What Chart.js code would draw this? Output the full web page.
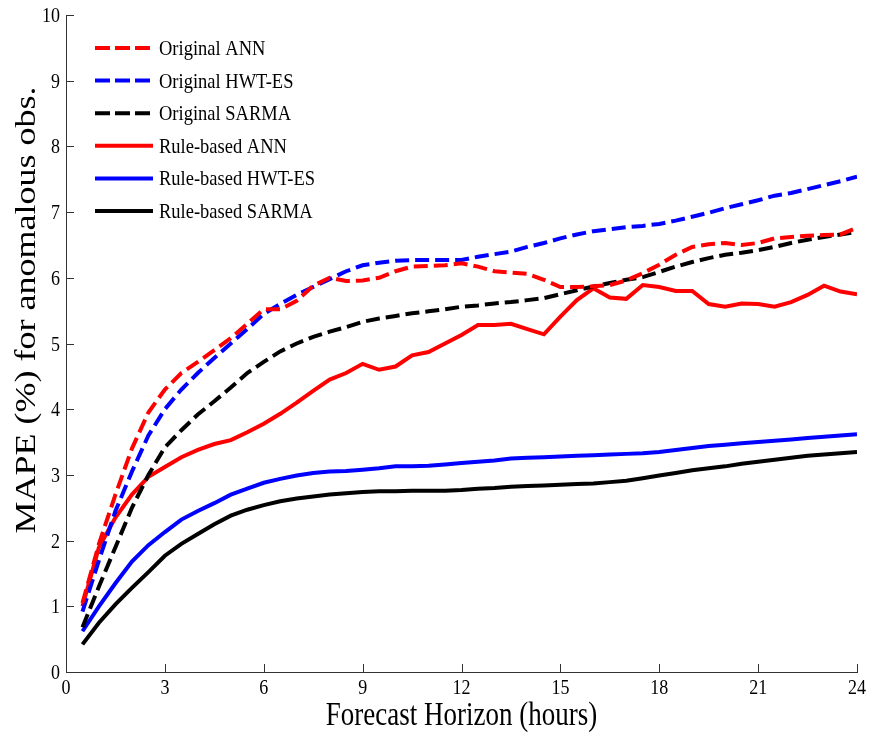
<!DOCTYPE html>
<html>
<head>
<meta charset="utf-8">
<script src="https://cdn.jsdelivr.net/npm/chart.js@4.4.1/dist/chart.umd.min.js"></script>
<style>
  html, body { margin: 0; padding: 0; background: #fff; }
  #wrap { width: 869px; height: 733px; position: relative; }
</style>
</head>
<body>
<div id="wrap"><canvas id="c" width="869" height="733"></canvas></div>
<script>
// Forecast horizons (hours), half-hour steps
const horizons = [0.5,1,1.5,2,2.5,3,3.5,4,4.5,5,5.5,6,6.5,7,7.5,8,8.5,9,9.5,10,10.5,11,11.5,12,
                  12.5,13,13.5,14,14.5,15,15.5,16,16.5,17,17.5,18,18.5,19,19.5,20,20.5,21,21.5,22,22.5,23,23.5,24];

// MAPE (%) for anomalous observations
const originalANN = [1.05,1.95,2.7,3.4,3.95,4.3,4.55,4.72,4.9,5.08,5.3,5.52,5.52,5.65,5.88,6.0,5.95,5.96,6.0,6.1,6.17,6.18,6.19,6.22,
                     6.17,6.1,6.08,6.06,5.97,5.86,5.86,5.87,5.89,5.96,6.07,6.2,6.35,6.47,6.51,6.53,6.5,6.53,6.6,6.62,6.64,6.65,6.66,6.76];
const originalHWT = [0.92,1.7,2.45,3.05,3.6,4.0,4.3,4.55,4.78,5.0,5.22,5.45,5.6,5.74,5.86,5.98,6.1,6.19,6.23,6.26,6.27,6.27,6.27,6.27,
                     6.32,6.36,6.4,6.47,6.53,6.6,6.66,6.71,6.74,6.77,6.79,6.82,6.87,6.93,6.99,7.06,7.12,7.18,7.25,7.29,7.35,7.41,7.47,7.54];
const originalSARMA = [0.68,1.3,1.9,2.5,3.0,3.42,3.68,3.92,4.12,4.33,4.55,4.72,4.88,5.0,5.1,5.18,5.25,5.33,5.38,5.42,5.46,5.49,5.52,5.56,
                       5.58,5.61,5.63,5.66,5.69,5.75,5.81,5.87,5.92,5.97,6.01,6.09,6.17,6.24,6.3,6.35,6.38,6.42,6.47,6.53,6.58,6.62,6.66,6.7];
const ruleANN = [1.0,1.9,2.35,2.7,2.97,3.12,3.27,3.38,3.47,3.53,3.65,3.78,3.93,4.1,4.28,4.45,4.55,4.69,4.6,4.65,4.82,4.87,5.0,5.13,
                 5.28,5.28,5.3,5.22,5.14,5.41,5.66,5.84,5.7,5.68,5.89,5.86,5.8,5.8,5.6,5.56,5.61,5.6,5.56,5.63,5.74,5.88,5.79,5.75];
const ruleHWT = [0.62,1.0,1.35,1.68,1.93,2.13,2.32,2.45,2.57,2.7,2.79,2.88,2.94,2.99,3.03,3.05,3.06,3.08,3.1,3.13,3.13,3.14,3.16,3.18,
                 3.2,3.22,3.25,3.26,3.27,3.28,3.29,3.3,3.31,3.32,3.33,3.35,3.38,3.41,3.44,3.46,3.48,3.5,3.52,3.54,3.56,3.58,3.6,3.62];
const ruleSARMA = [0.42,0.75,1.03,1.28,1.52,1.77,1.95,2.1,2.25,2.38,2.47,2.54,2.6,2.64,2.67,2.7,2.72,2.74,2.75,2.75,2.76,2.76,2.76,2.77,
                   2.79,2.8,2.82,2.83,2.84,2.85,2.86,2.87,2.89,2.91,2.95,2.99,3.03,3.07,3.1,3.13,3.17,3.2,3.23,3.26,3.29,3.31,3.33,3.35];

const seriesLabels = ['Original ANN','Original HWT-ES','Original SARMA','Rule-based ANN','Rule-based HWT-ES','Rule-based SARMA'];
const xTicks = [0,3,6,9,12,15,18,21,24];
const yTicks = [0,1,2,3,4,5,6,7,8,9,10];
const xTitle = 'Forecast Horizon (hours)';
const yTitle = 'MAPE (%) for anomalous obs.';

const SERIF = '"Liberation Serif", "Times New Roman", serif';
const DASH = [14, 6];

function series(label, values, color, dashed) {
  return {
    label: label,
    data: horizons.map((h, i) => ({ x: h, y: values[i] })),
    borderColor: color,
    backgroundColor: color,
    borderWidth: 4,
    borderDash: dashed ? DASH : [],
    pointRadius: 0,
    tension: 0,
    fill: false
  };
}

// text drawn with a slight vertical stretch (tall, narrow serif lettering)
function stretchedText(ctx, text, x, y, sy, align) {
  ctx.save();
  ctx.translate(x, y);
  ctx.scale(1, sy);
  ctx.textAlign = align;
  ctx.textBaseline = 'alphabetic';
  ctx.fillText(text, 0, 0);
  ctx.restore();
}

// Inward tick marks, tick labels, axis titles and an in-plot legend
const decorations = {
  id: 'decorations',
  afterDraw(chart) {
    const ctx = chart.ctx;
    const xs = chart.scales.x, ys = chart.scales.y;
    const area = chart.chartArea;
    ctx.save();
    ctx.strokeStyle = '#333';
    ctx.lineWidth = 1;
    ctx.beginPath();
    xTicks.forEach(v => {
      const px = Math.round(xs.getPixelForValue(v)) + 0.5;
      ctx.moveTo(px, area.bottom);
      ctx.lineTo(px, area.bottom - 8);
    });
    yTicks.forEach(v => {
      const py = Math.round(ys.getPixelForValue(v)) + 0.5;
      ctx.moveTo(area.left, py);
      ctx.lineTo(area.left + 8, py);
    });
    ctx.stroke();

    // tick labels
    ctx.fillStyle = '#000';
    ctx.font = '18px ' + SERIF;
    xTicks.forEach(v => stretchedText(ctx, String(v), xs.getPixelForValue(v), area.bottom + 22, 1.15, 'center'));
    yTicks.forEach(v => stretchedText(ctx, String(v), area.left - 6, ys.getPixelForValue(v) + 7, 1.15, 'right'));

    // axis titles
    ctx.font = '27px ' + SERIF;
    stretchedText(ctx, xTitle, (area.left + area.right) / 2, 725, 1.22, 'center');
    ctx.save();
    ctx.translate(35, 310);
    ctx.rotate(-Math.PI / 2);
    ctx.scale(1.2, 1);
    ctx.font = '30px ' + SERIF;
    ctx.textAlign = 'center';
    ctx.textBaseline = 'alphabetic';
    ctx.fillText(yTitle, 0, 0);
    ctx.restore();

    // legend
    ctx.font = '18.5px ' + SERIF;
    chart.data.datasets.forEach((ds, i) => {
      const y = 48 + i * 32.6;
      ctx.strokeStyle = ds.borderColor;
      ctx.lineWidth = 4;
      ctx.setLineDash(ds.borderDash.length ? [15, 5] : []);
      ctx.beginPath();
      ctx.moveTo(95, y);
      ctx.lineTo(ds.borderDash.length ? 150 : 153, y);
      ctx.stroke();
      ctx.setLineDash([]);
      ctx.fillStyle = '#000';
      stretchedText(ctx, ds.label, 159, y + 7, 1.18, 'left');
    });
    ctx.restore();
  }
};

new Chart(document.getElementById('c'), {
  type: 'line',
  data: {
    datasets: [
      series(seriesLabels[0], originalANN, '#ff0000', true),
      series(seriesLabels[1], originalHWT, '#0000ff', true),
      series(seriesLabels[2], originalSARMA, '#000000', true),
      series(seriesLabels[3], ruleANN, '#ff0000', false),
      series(seriesLabels[4], ruleHWT, '#0000ff', false),
      series(seriesLabels[5], ruleSARMA, '#000000', false)
    ]
  },
  options: {
    responsive: false,
    animation: false,
    layout: { padding: { left: 0, top: 15, right: 12, bottom: 0 } },
    plugins: { legend: { display: false }, tooltip: { enabled: false } },
    scales: {
      x: {
        type: 'linear', min: 0, max: 24,
        afterFit(s) { s.height = 61; },
        afterBuildTicks(s) { s.ticks = xTicks.map(v => ({ value: v })); },
        grid: { display: false, drawTicks: false },
        border: { display: true, color: '#333', width: 1 },
        ticks: { display: false }
      },
      y: {
        type: 'linear', min: 0, max: 10,
        afterFit(s) { s.width = 66; },
        afterBuildTicks(s) { s.ticks = yTicks.map(v => ({ value: v })); },
        grid: { display: false, drawTicks: false },
        border: { display: true, color: '#333', width: 1 },
        ticks: { display: false }
      }
    }
  },
  plugins: [decorations]
});
</script>
</body>
</html>
